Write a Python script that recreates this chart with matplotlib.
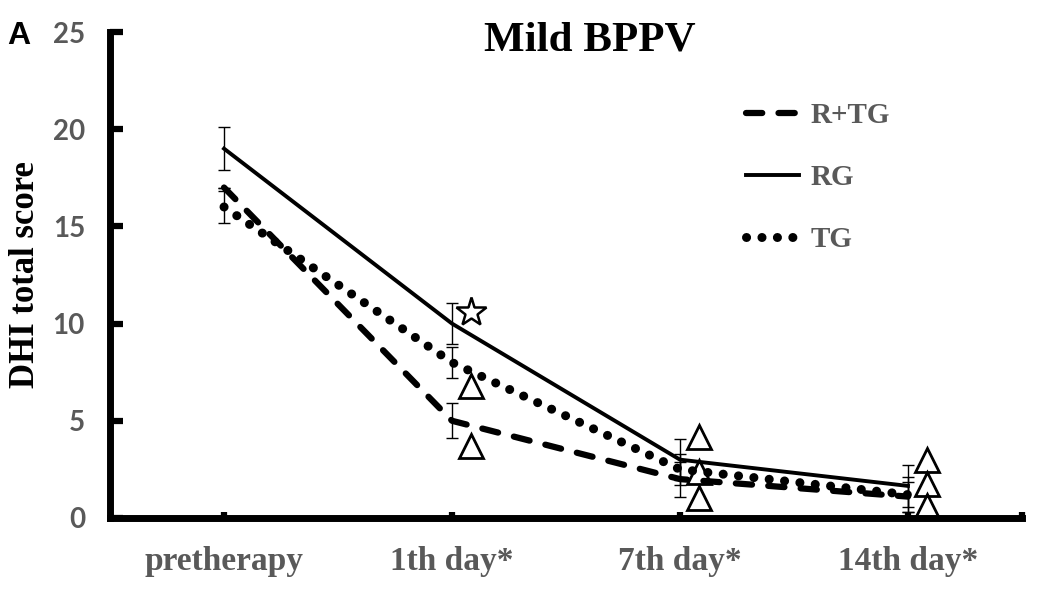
import matplotlib
matplotlib.use("Agg")
import matplotlib.pyplot as plt
import numpy as np

categories = ["pretherapy", "1th day*", "7th day*", "14th day*"]
rtg = [17.0, 5.0, 2.0, 1.1]
rtg_err = [0.0, 0.9, 0.9, 0.77]
rg = [19.0, 10.0, 3.0, 1.65]
rg_err = [1.1, 1.07, 1.06, 1.08]
tg = [16.0, 8.0, 2.5, 1.2]
tg_err = [0.8, 0.8, 0.78, 0.9]
yticks = [0, 5, 10, 15, 20, 25]

# significance markers: (category index, value)
star_marks = [(1, 10.6)]
tri_marks = [(1, 6.8), (1, 3.7), (2, 4.17), (2, 2.37), (2, 1.03), (3, 2.98), (3, 1.75), (3, 0.62)]

serif = "Liberation Serif"
gray = "#595959"

fig = plt.figure(figsize=(10.46, 5.96), dpi=100)
ax = fig.add_axes([0.1052, 0.1309, 0.8718, 0.8154])
x = np.arange(len(categories))

for vals, errs in [(rg, rg_err), (tg, tg_err), (rtg, rtg_err)]:
    ax.errorbar(x, vals, yerr=errs, fmt="none", ecolor="black", elinewidth=1.0,
                capsize=4, capthick=1.0, zorder=2)

ax.plot(x, rtg, color="black", lw=4.5, linestyle=(0, (2.6, 2.6)), zorder=3,
        solid_capstyle="round", dash_capstyle="round", label="R+TG")
ax.plot(x, rg, color="black", lw=2.8, linestyle="-", zorder=3, label="RG")
ax.plot(x, tg, color="black", lw=6.5, linestyle=(0, (0.01, 1.7)), zorder=3,
        dash_capstyle="round", label="TG")

off = 0.085
for i, v in star_marks:
    ax.plot(x[i] + off, v, marker="*", ms=22, mfc="white", mec="black", mew=1.8, zorder=4)
for i, v in tri_marks:
    ax.plot(x[i] + off, v, marker="^", ms=17, mfc="none", mec="black", mew=2.0, zorder=4)

ax.set_xlim(-0.5, 3.5)
ax.set_ylim(0, 25)
ax.set_yticks(yticks)
ax.set_xticks(x)
ax.set_xticks([3.5], minor=True)
ax.set_xticklabels(categories, fontfamily=serif, fontweight="bold", fontsize=24, color=gray)
for lab in ax.get_yticklabels():
    lab.set_fontfamily("Lato")
    lab.set_fontweight("bold")
    lab.set_fontsize(20)
    lab.set_color(gray)
ax.tick_params(axis="y", direction="in", length=9, width=4.5, pad=18)
ax.tick_params(axis="x", which="both", direction="in", length=4, width=4.5, pad=20)
for s in ["top", "right"]:
    ax.spines[s].set_visible(False)
for s in ["left", "bottom"]:
    ax.spines[s].set_linewidth(5)
ax.set_ylabel("DHI total score", fontfamily=serif, fontweight="bold", fontsize=25, labelpad=8)
fig.text(0.564, 0.932, "Mild BPPV", fontfamily=serif, fontweight="bold", fontsize=31,
         ha="center", va="center")
fig.text(0.007, 0.94, "A", fontfamily="Liberation Sans", fontweight="bold", fontsize=23,
         va="center")

leg = ax.legend(loc="upper left", bbox_to_anchor=(0.669, 0.91), frameon=False,
                prop={"family": serif, "weight": "bold", "size": 21},
                handlelength=1.8, labelspacing=1.2, handletextpad=0.4)
for t in leg.get_texts():
    t.set_color(gray)

fig.savefig("out.png", dpi=100)
